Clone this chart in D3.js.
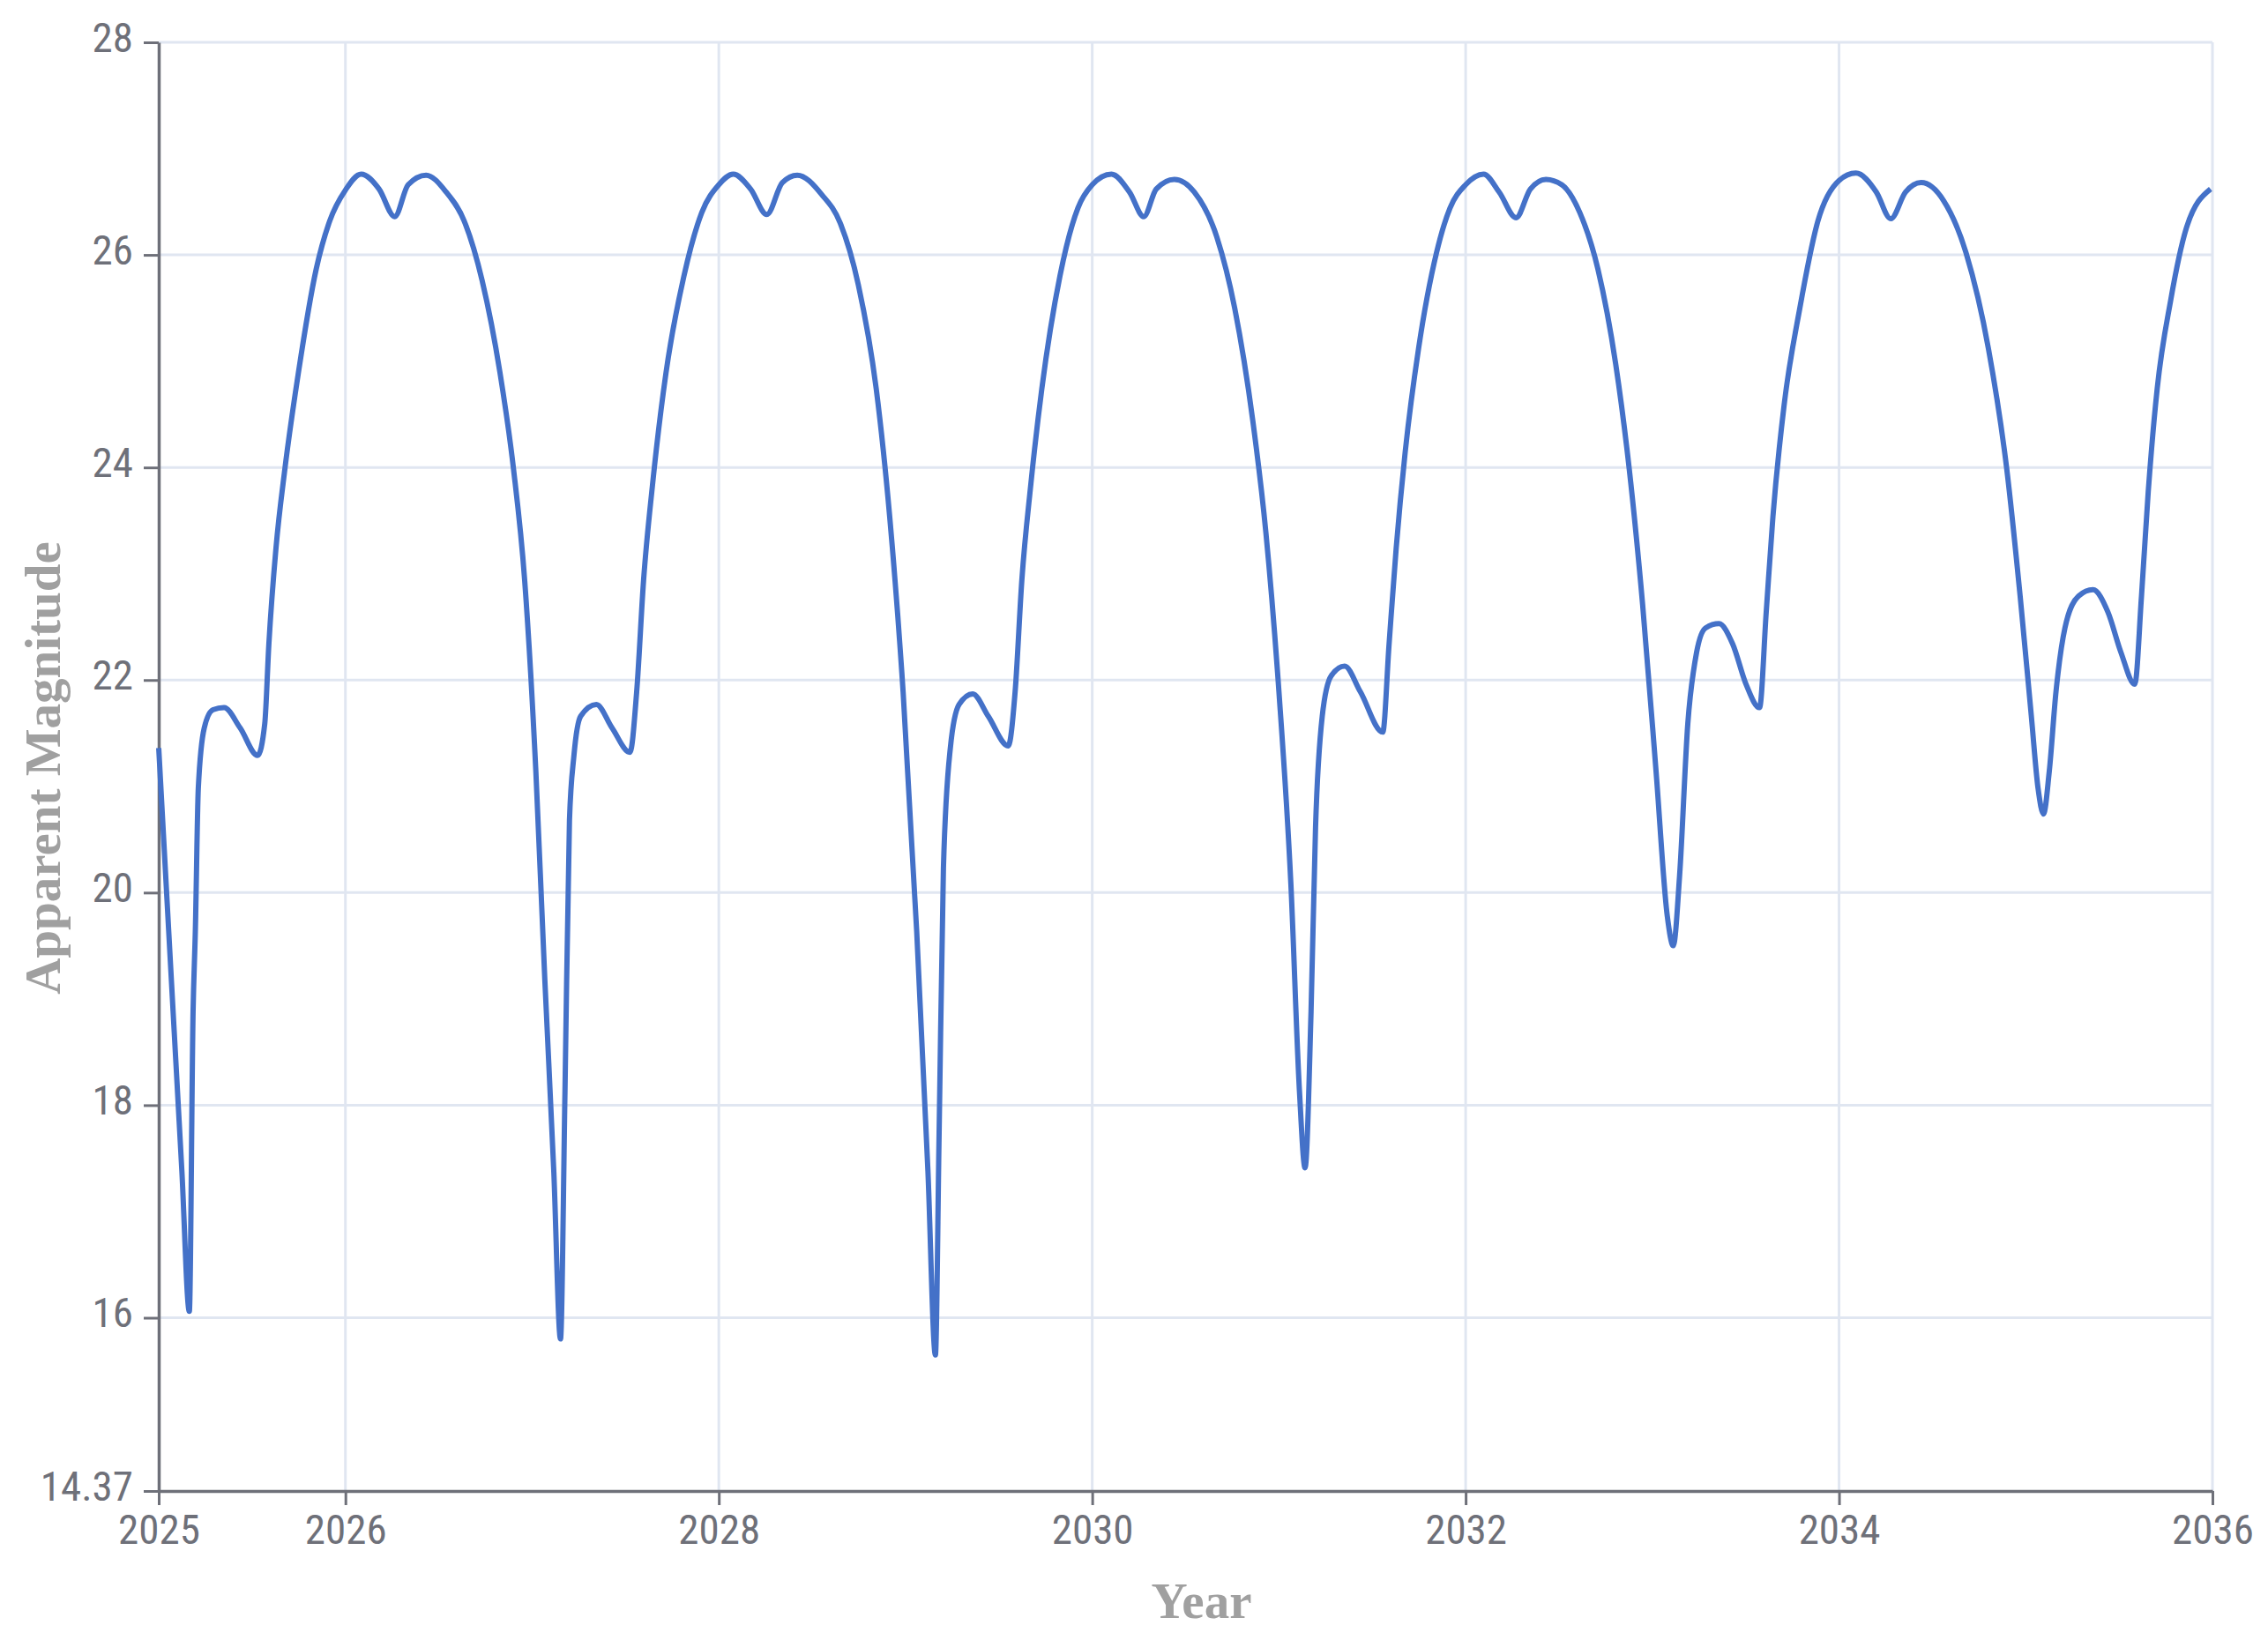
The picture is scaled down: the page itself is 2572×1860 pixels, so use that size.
<!DOCTYPE html>
<html>
<head>
<meta charset="utf-8">
<script src="https://cdn.jsdelivr.net/npm/d3@7"></script>
<style>
    body { margin: 0; background: #fff; }
    .tick-label { font-family: "Liberation Sans Narrow", "Roboto Condensed", "Roboto", sans-serif; fill: #6e7079; }
    .axis-title { font-family: "Liberation Serif", "Times New Roman", serif; font-weight: bold; fill: #a0a0a0; }
</style>
</head>
<body>
<svg id="chart"></svg>
<script>
// Data (decimal year, apparent magnitude)
const years = [
    2025.000, 2025.077, 2025.124, 2025.164, 2025.184, 2025.196, 2025.212, 2025.244, 2025.290, 2025.350,
    2025.436, 2025.530, 2025.568, 2025.590, 2025.628, 2025.676, 2025.748, 2025.844, 2025.916, 2026.000,
    2026.084, 2026.180, 2026.264, 2026.336, 2026.432, 2026.540, 2026.636, 2026.732, 2026.828, 2026.900,
    2026.960, 2027.020, 2027.068, 2027.116, 2027.152, 2027.176, 2027.200, 2027.224, 2027.260, 2027.344,
    2027.428, 2027.524, 2027.560, 2027.597, 2027.645, 2027.717, 2027.813, 2027.909, 2028.000, 2028.077,
    2028.170, 2028.257, 2028.340, 2028.420, 2028.550, 2028.650, 2028.747, 2028.843, 2028.915, 2028.987,
    2029.060, 2029.120, 2029.160, 2029.180, 2029.203, 2029.240, 2029.287, 2029.360, 2029.443, 2029.550,
    2029.587, 2029.623, 2029.671, 2029.730, 2029.827, 2029.923, 2030.000, 2030.103, 2030.200, 2030.276,
    2030.343, 2030.440, 2030.547, 2030.667, 2030.763, 2030.860, 2030.930, 2031.000, 2031.064, 2031.110,
    2031.140, 2031.172, 2031.196, 2031.232, 2031.280, 2031.352, 2031.436, 2031.556, 2031.590, 2031.628,
    2031.676, 2031.748, 2031.844, 2031.916, 2032.000, 2032.096, 2032.180, 2032.270, 2032.347, 2032.430,
    2032.515, 2032.611, 2032.708, 2032.804, 2032.876, 2032.948, 2033.020, 2033.080, 2033.112, 2033.146,
    2033.190, 2033.237, 2033.285, 2033.357, 2033.430, 2033.502, 2033.574, 2033.610, 2033.646, 2033.706,
    2033.790, 2033.887, 2034.000, 2034.090, 2034.200, 2034.277, 2034.356, 2034.440, 2034.560, 2034.680,
    2034.800, 2034.898, 2034.970, 2035.030, 2035.066, 2035.095, 2035.126, 2035.162, 2035.210, 2035.283,
    2035.360, 2035.440, 2035.510, 2035.584, 2035.620, 2035.656, 2035.704, 2035.776, 2035.860, 2035.990
];
const magnitudes = [
    21.36, 18.88, 17.38, 16.06, 18.88, 19.63, 20.98, 21.55, 21.72, 21.74,
    21.55, 21.29, 21.59, 22.34, 23.24, 23.99, 24.89, 25.87, 26.32, 26.61,
    26.76, 26.62, 26.36, 26.66, 26.75, 26.59, 26.32, 25.76, 24.89, 23.99,
    22.94, 21.14, 19.18, 17.38, 15.80, 18.13, 20.68, 21.29, 21.66, 21.77,
    21.55, 21.32, 21.89, 22.94, 23.84, 24.89, 25.80, 26.40, 26.66, 26.76,
    26.62, 26.38, 26.68, 26.75, 26.57, 26.30, 25.72, 24.74, 23.54, 21.89,
    19.63, 17.38, 15.65, 17.75, 20.23, 21.36, 21.77, 21.87, 21.66, 21.38,
    21.89, 22.94, 23.84, 24.74, 25.80, 26.44, 26.66, 26.76, 26.59, 26.36,
    26.62, 26.71, 26.59, 26.17, 25.50, 24.44, 23.39, 21.89, 20.08, 18.13,
    17.41, 18.88, 20.61, 21.66, 22.04, 22.13, 21.89, 21.51, 22.34, 23.24,
    24.14, 25.12, 26.02, 26.44, 26.66, 26.76, 26.59, 26.35, 26.62, 26.71,
    26.66, 26.40, 25.87, 24.97, 23.99, 22.71, 21.14, 19.78, 19.50, 20.16,
    21.59, 22.26, 22.49, 22.53, 22.34, 21.96, 21.74, 22.64, 23.54, 24.59,
    25.50, 26.32, 26.70, 26.77, 26.59, 26.34, 26.59, 26.68, 26.51, 26.02,
    25.12, 23.99, 22.79, 21.66, 20.98, 20.74, 21.14, 21.89, 22.49, 22.79,
    22.85, 22.64, 22.26, 21.96, 22.79, 23.77, 24.74, 25.57, 26.25, 26.62
];

// Axis ticks
const xTicks = [2025, 2026, 2028, 2030, 2032, 2034, 2036];
const yTicks = [14.37, 16, 18, 20, 22, 24, 26, 28];
const xTitle = "Year";
const yTitle = "Apparent Magnitude";

const width = 2572;
const height = 1860;
const margin = { left: 180, right: 63, top: 48, bottom: 169 };
const drawWidth = width - margin.left - margin.right;
const drawHeight = height - margin.top - margin.bottom;

const data = years.map((y, i) => ({ x: y, y: magnitudes[i] }));

const xScale = d3.scaleLinear().domain([2025, 2036]).range([0, drawWidth]);
const yScale = d3.scaleLinear().domain([14.37, 28]).range([drawHeight, 0]);

const svg = d3.select("#chart").attr("width", width).attr("height", height);
const g = svg.append("g").attr("transform", `translate(${margin.left},${margin.top})`);

// Grid lines
g.append("g").selectAll("line").data(xTicks.filter(t => t !== 2025)).enter().append("line")
    .attr("x1", d => xScale(d)).attr("x2", d => xScale(d))
    .attr("y1", 0).attr("y2", drawHeight)
    .attr("stroke", "#e0e6f1").attr("stroke-width", 3);

g.append("g").selectAll("line").data(yTicks.filter(t => t !== 14.37)).enter().append("line")
    .attr("x1", 0).attr("x2", drawWidth)
    .attr("y1", d => yScale(d)).attr("y2", d => yScale(d))
    .attr("stroke", "#e0e6f1").attr("stroke-width", 3);

// Axes
const xAxis = g.append("g").attr("transform", `translate(0,${drawHeight})`)
    .call(d3.axisBottom(xScale).tickValues(xTicks).tickFormat(d3.format("d")).tickSize(16).tickPadding(10).tickSizeOuter(0));
const yAxis = g.append("g")
    .call(d3.axisLeft(yScale).tickValues(yTicks).tickFormat(d => d === 14.37 ? "14.37" : d).tickSize(17).tickPadding(12).tickSizeOuter(0));

[xAxis, yAxis].forEach(a => {
    a.select(".domain").attr("stroke", "#6e7079").attr("stroke-width", 3.5);
    a.selectAll(".tick line").attr("stroke", "#6e7079").attr("stroke-width", 3);
    a.selectAll(".tick text").attr("class", "tick-label").attr("font-size", 47).attr("font-family", null).attr("fill", null);
});
yAxis.selectAll(".tick text").attr("dy", "0.22em");
xAxis.selectAll(".tick text").attr("dy", "0.72em");

// Line
const line = d3.line()
    .x(d => xScale(d.x))
    .y(d => yScale(d.y))
    .curve(d3.curveMonotoneX);

g.append("path").datum(data)
    .attr("d", line)
    .attr("fill", "none")
    .attr("stroke", "#4471c8")
    .attr("stroke-width", 6)
    .attr("stroke-linejoin", "round");

// Axis titles
svg.append("text").attr("class", "axis-title")
    .attr("x", margin.left + drawWidth / 2 + 18).attr("y", 1835)
    .attr("text-anchor", "middle").attr("font-size", 57)
    .text(xTitle);

svg.append("text").attr("class", "axis-title")
    .attr("transform", `translate(68, 871) rotate(-90)`)
    .attr("text-anchor", "middle").attr("font-size", 57)
    .text(yTitle);
</script>
</body>
</html>
